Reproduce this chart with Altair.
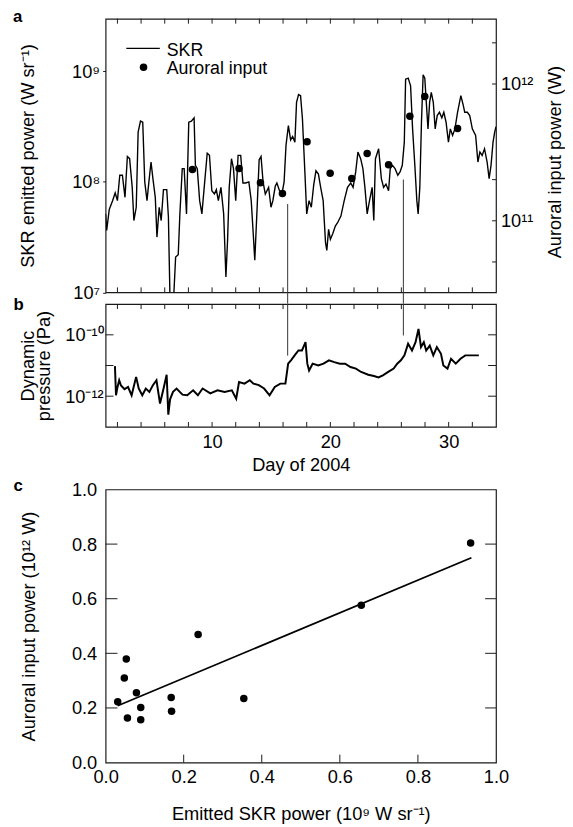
import altair as alt
import pandas as pd

FONT = "Liberation Sans"
FS = 18.5

# ---------------- panel a: SKR emitted power (log10 W/sr) vs day ----------------
skr_day = [1.0, 1.09, 1.31, 1.59, 1.81, 2.0, 2.2, 2.42, 2.64, 2.84, 3.03, 3.25, 3.39, 3.59, 3.75, 3.95,
           4.14, 4.31, 4.5, 4.64, 4.84, 5.0, 5.2, 5.34, 5.53, 5.7, 5.89, 6.17, 6.31, 6.45, 6.73, 6.92,
           7.14, 7.28, 7.48, 7.64, 7.84, 8.03, 8.25, 8.48, 8.59, 8.75, 8.95, 9.14, 9.36, 9.59, 9.78,
           9.98, 10.2, 10.36, 10.53, 10.75, 10.98, 11.17, 11.31, 11.45, 11.64, 11.81, 12.0, 12.2,
           12.42, 12.61, 12.84, 13.11, 13.31, 13.48, 13.61, 13.81, 13.98, 14.14, 14.31, 14.5, 14.78,
           14.98, 15.14, 15.34, 15.48, 15.7, 15.92, 16.09, 16.25, 16.45, 16.64, 16.81, 17.0, 17.14,
           17.31, 17.48, 17.64, 17.84, 18.0, 18.2, 18.39, 18.59, 18.78, 18.99, 19.18, 19.39, 19.59,
           19.7, 19.85, 20.0, 20.2, 20.42, 20.61, 20.89, 21.17, 21.45, 21.72, 21.92, 22.14, 22.33,
           22.56, 22.75, 22.92, 23.11, 23.31, 23.53, 23.67, 23.81, 24.08, 24.31, 24.5, 24.7, 24.92,
           25.06, 25.25, 25.47, 25.7, 25.89, 26.08, 26.25, 26.36, 26.58, 26.78, 26.95, 27.14, 27.31,
           27.42, 27.56, 27.7, 27.84, 27.98, 28.11, 28.25, 28.39, 28.53, 28.7, 28.86, 29.03, 29.22,
           29.42, 29.59, 29.78, 29.98, 30.14, 30.33, 30.53, 30.75, 31.03, 31.22, 31.36, 31.58, 31.78,
           32.0, 32.28, 32.47, 32.64, 32.83, 33.03, 33.25, 33.42, 33.58, 33.75, 33.89, 34.0]
skr_log10 = [7.71, 7.56, 7.75, 7.83, 7.9, 7.83, 8.06, 8.06, 7.86, 8.23, 8.21, 7.95, 7.65, 7.77, 8.45, 8.55,
             8.54, 8.0, 7.83, 7.98, 8.18, 8.03, 7.86, 7.5, 7.77, 7.65, 7.93, 7.93, 7.68, 6.9, 6.9, 7.32,
             7.34, 7.71, 8.12, 8.12, 7.71, 8.54, 8.55, 8.58, 8.15, 8.12, 7.83, 7.71, 7.98, 8.26, 8.24,
             7.92, 7.89, 7.93, 7.83, 7.95, 7.71, 7.14, 7.47, 7.95, 8.21, 8.12, 7.83, 8.24,
             8.24, 7.99, 7.99, 8.0, 7.83, 7.53, 7.29, 7.77, 8.2, 8.23, 8.0, 7.89, 7.95,
             7.77, 7.83, 7.96, 7.99, 7.92, 7.9, 8.0, 8.33, 8.51, 8.38, 8.41, 8.36, 8.72,
             8.79, 8.78, 8.57, 8.1, 7.71, 7.83, 7.77, 7.97, 8.1, 8.07, 7.95, 7.83, 7.45,
             7.38, 7.57, 7.48, 7.53, 7.6, 7.63, 7.69, 7.83, 7.95, 7.99, 7.95, 8.09, 8.27,
             8.21, 8.12, 7.95, 7.71, 7.83, 7.95, 7.65, 8.21, 8.3, 8.03, 7.95, 7.98, 7.92,
             8.12, 8.15, 8.12, 8.06, 8.09, 8.15, 8.36, 8.93, 8.94, 8.87, 8.48, 8.15, 7.83,
             7.71, 7.95, 8.54, 8.97, 8.94, 8.72, 8.48, 8.72, 8.81, 8.72, 8.48, 8.6, 8.63,
             8.58, 8.63, 8.54, 8.36, 8.48, 8.42, 8.48, 8.63, 8.78, 8.7, 8.63, 8.63, 8.6,
             8.48, 8.42, 8.18, 8.27, 8.24, 8.3, 8.18, 8.03, 8.15, 8.36, 8.45, 8.5]

# auroral input power (W), right axis of panel a
aur_day = [8.34, 12.28, 14.09, 15.95, 18.03, 19.98, 21.81, 23.11, 24.92, 26.72, 27.98, 30.75]
aur_power = [2.37e11, 2.41e11, 1.90e11, 1.58e11, 3.79e11, 2.23e11, 2.04e11, 3.11e11, 2.57e11,
             5.81e11, 8.11e11, 4.73e11]

# connector lines between panels a and b
conn_day = [16.39, 26.17]
conn_skr = [6.3e7, 1.05e8]
conn_pres = [2.1e-11, 9.5e-11]

# ---------------- panel b: dynamic pressure (log10 Pa) ----------------
pres_day = [1.79, 1.88, 1.98, 2.15, 2.3, 2.6, 2.9, 3.2, 3.58, 3.8, 4.1, 4.4, 4.7, 5.0, 5.3, 5.6, 5.9,
            6.16, 6.3, 6.45, 6.7, 7.0, 7.5, 7.9, 8.4, 8.8, 9.2, 9.85, 10.46, 11.06, 11.67, 12.04,
            12.28, 12.74, 13.19, 13.5, 13.95, 14.4, 14.86, 15.3, 15.77, 16.2, 16.43, 16.67, 16.98,
            17.3, 17.6, 17.9, 18.05, 18.2, 18.5, 18.97, 19.42, 19.88, 20.33, 20.8, 21.25, 21.7,
            22.16, 22.6, 23.2, 23.68, 24.07, 24.44, 24.89, 25.35, 25.65, 25.96, 26.26, 26.57, 26.9,
            27.2, 27.45, 27.66, 27.9, 28.1, 28.4, 28.7, 29.0, 29.35, 29.55, 29.9, 30.2, 30.6, 31.0,
            31.4, 31.87, 32.3, 32.55]
pres_log10 = [-11.02, -11.97, -11.75, -11.48, -11.65, -11.77, -11.7, -11.97, -11.37, -11.75, -11.97,
              -11.75, -11.86, -11.64, -11.48, -12.24, -11.75, -11.3, -12.6, -12.1, -11.86, -11.75,
              -11.95, -11.97, -11.81, -11.97, -11.75, -11.91, -11.81, -11.86, -11.81, -12.08,
              -11.54, -11.59, -11.48, -11.59, -11.64, -11.75, -11.97, -11.7, -11.59, -11.59, -10.94,
              -10.83, -10.67, -10.51, -10.51, -10.24, -10.94, -11.16, -10.94, -11.0, -10.94, -10.83,
              -10.89, -10.94, -10.94, -11.05, -11.1, -11.21, -11.3, -11.34, -11.39, -11.32, -11.21,
              -11.1, -10.94, -10.83, -10.67, -10.29, -10.51, -10.24, -9.81, -10.4, -10.24, -10.51,
              -10.35, -10.67, -10.4, -10.62, -11.0, -11.1, -10.78, -10.94, -10.78, -10.67, -10.67,
              -10.67, -10.67]

# ---------------- panel c: scatter ----------------
sc_skr = [0.031, 0.048, 0.053, 0.056, 0.079, 0.090, 0.090, 0.168, 0.169, 0.237, 0.354, 0.655, 0.935]
sc_aur = [0.223, 0.310, 0.379, 0.163, 0.256, 0.202, 0.157, 0.238, 0.188, 0.469, 0.235, 0.576, 0.804]
fit_skr = [0.031, 0.937]
fit_aur = [0.208, 0.750]

# tick positions
day_ticks = list(range(2, 33, 2))
aur_ticks = [5e10, 1e11, 2e11, 1e12, 2e12]
pres_ticks = [1e-12, 1e-11, 1e-10]
c_ticks = [0.2, 0.4, 0.6, 0.8]
c_labels = [0.0, 0.2, 0.4, 0.6, 0.8, 1.0]

W, HA, HB, HC = 396, 277.5, 124.5, 277
GAP = 11.5
SPACER = 39.2
INK = "#1a1a1a"
LETTER = 17
LEG_FS = 18

skr_df = pd.DataFrame({"day": skr_day, "skr": [10 ** v for v in skr_log10]})
aur_df = pd.DataFrame({"day": aur_day, "aur": aur_power})
conn_df = pd.DataFrame({"day": conn_day, "skr": conn_skr, "p": conn_pres})
pres_df = pd.DataFrame({"day": pres_day, "p": [10 ** v for v in pres_log10]})
sc_df = pd.DataFrame({"skr": sc_skr, "aur": sc_aur})
fit_df = pd.DataFrame({"skr": fit_skr, "aur": fit_aur})
dayt_df = pd.DataFrame({"v": day_ticks})
aurt_df = pd.DataFrame({"v": aur_ticks})
prest_df = pd.DataFrame({"v": pres_ticks})
ct_df = pd.DataFrame({"v": c_ticks})

X_DAY = alt.Scale(domain=[1, 34])
Y_SKR = alt.Scale(type="log", domain=[1e7, 3e9])
Y_AUR = alt.Scale(type="log", domain=[3e10, 3e12])
Y_P = alt.Scale(type="log", domain=[1e-13, 1e-9])
LIN = alt.Scale(domain=[0, 1])

one = alt.Data(values=[{"k": 0}])


def text_mark(txt, x, y, bold=False, size=FS):
    return alt.Chart(one).mark_text(
        text=txt, align="left", baseline="alphabetic", font=FONT, fontSize=size,
        fontWeight="bold" if bold else "normal", color="black"
    ).encode(x=alt.value(x), y=alt.value(y))


def xticks(df, scale, y0, y1):
    return alt.Chart(df).mark_rule(color=INK, strokeWidth=1).encode(
        x=alt.X("v:Q", scale=scale, axis=None), y=alt.value(y0), y2=alt.value(y1))


def yticks(df, scale, x0, x1):
    return alt.Chart(df).mark_rule(color=INK, strokeWidth=1).encode(
        y=alt.Y("v:Q", scale=scale, axis=None), x=alt.value(x0), x2=alt.value(x1))


# ---------- panel a ----------
a_line = alt.Chart(skr_df).mark_line(color="black", strokeWidth=1.4, clip=True).encode(
    x=alt.X("day:Q", scale=X_DAY, axis=None),
    y=alt.Y("skr:Q", scale=Y_SKR, axis=alt.Axis(
        orient="left", values=[1e7, 1e8, 1e9],
        labelExpr="datum.value >= 5e8 ? '10⁹' : datum.value >= 5e7 ? '10⁸' : '10⁷'",
        tickSize=3, labelPadding=3, domain=False, grid=False,
        title="SKR emitted power (W sr⁻¹)", titleAngle=270, titleBaseline="bottom", titleX=-69)),
)
a_dots = alt.Chart(aur_df).mark_circle(size=58, color="black", opacity=1).encode(
    x=alt.X("day:Q", scale=X_DAY, axis=None),
    y=alt.Y("aur:Q", scale=Y_AUR, axis=alt.Axis(
        orient="right", values=[1e11, 1e12],
        labelExpr="datum.value >= 5e11 ? '10¹²' : '10¹¹'",
        ticks=False, tickSize=0, labelPadding=4.5, domain=False, grid=False,
        title="Auroral input power (W)", titleAngle=270, titleBaseline="bottom",
        titleX=69.5, titleY=145)),
)
a_conn = alt.Chart(conn_df).mark_rule(color="#333333", strokeWidth=1).encode(
    x=alt.X("day:Q", scale=X_DAY, axis=None),
    y=alt.Y("skr:Q", scale=Y_SKR, axis=None),
    y2=alt.value(HA + GAP),
)
leg_line = alt.Chart(one).mark_rule(color="black", strokeWidth=1.3).encode(
    x=alt.value(21), x2=alt.value(55), y=alt.value(30))
leg_dot = alt.Chart(one).mark_circle(size=58, color="black", opacity=1).encode(
    x=alt.value(38.5), y=alt.value(49.3))

panel_a = alt.layer(
    a_line, a_dots, a_conn,
    xticks(dayt_df, X_DAY, 0, 5), xticks(dayt_df, X_DAY, HA, HA - 5),
    yticks(aurt_df, Y_AUR, W, W - 4),
    leg_line, leg_dot,
    text_mark("SKR", 62, 37.4, size=LEG_FS), text_mark("Auroral input", 62, 55.6, size=LEG_FS),
    text_mark("a", -94, 3.3, bold=True, size=LETTER),
).resolve_scale(y="independent").resolve_axis(x="independent", y="independent").properties(
    width=W, height=HA)

# ---------- panel b ----------
b_line = alt.Chart(pres_df).mark_line(color="black", strokeWidth=2.0, clip=True).encode(
    x=alt.X("day:Q", scale=X_DAY, axis=alt.Axis(
        orient="bottom", values=[10, 20, 30], ticks=False, tickSize=0, labelPadding=6,
        domain=False, grid=False, title="Day of 2004", titleBaseline="top", titleY=29.3)),
    y=alt.Y("p:Q", scale=Y_P, axis=alt.Axis(
        orient="left", values=[1e-12, 1e-10],
        labelExpr="datum.value >= 5e-11 ? '10⁻¹⁰' : '10⁻¹²'",
        ticks=False, tickSize=0, labelPadding=2.5, domain=False, grid=False,
        title=["Dynamic", "pressure (Pa)"], titleAngle=270, titleBaseline="bottom",
        titleX=-69.2, titleLineHeight=16.5)),
)
b_conn = alt.Chart(conn_df).mark_rule(color="#333333", strokeWidth=1).encode(
    x=alt.X("day:Q", scale=X_DAY, axis=None),
    y=alt.Y("p:Q", scale=Y_P, axis=None),
    y2=alt.value(0),
)
panel_b = alt.layer(
    b_line, b_conn,
    xticks(dayt_df, X_DAY, 0, 5), xticks(dayt_df, X_DAY, HB, HB - 5),
    yticks(prest_df, Y_P, 0, 8), yticks(prest_df, Y_P, W, W - 8),
    text_mark("b", -93.5, 5.7, bold=True, size=LETTER),
).resolve_scale(y="independent").resolve_axis(x="independent", y="independent").properties(
    width=W, height=HB)

spacer = alt.Chart(one).mark_point(opacity=0).encode(
    x=alt.value(0), y=alt.value(0)).properties(
    width=W, height=SPACER, view=alt.ViewBackground(strokeOpacity=0))

# ---------- panel c ----------
c_pts = alt.Chart(sc_df).mark_circle(size=58, color="black", opacity=1).encode(
    x=alt.X("skr:Q", scale=LIN, axis=alt.Axis(
        orient="bottom", values=c_labels, format=".1f", ticks=False, tickSize=0, labelPadding=5.6,
        domain=False, grid=False, title="Emitted SKR power (10⁹ W sr⁻¹)", titleBaseline="top",
        titleY=42.3)),
    y=alt.Y("aur:Q", scale=LIN, axis=alt.Axis(
        orient="left", values=c_labels, format=".1f", ticks=False, tickSize=0, labelPadding=9,
        domain=False, grid=False, title="Auroral input power (10¹² W)", titleAngle=270,
        titleBaseline="bottom", titleX=-68.5)),
)
c_fit = alt.Chart(fit_df).mark_line(color="black", strokeWidth=1.8).encode(
    x=alt.X("skr:Q", scale=LIN, axis=None),
    y=alt.Y("aur:Q", scale=LIN, axis=None),
)
panel_c = alt.layer(
    c_pts, c_fit,
    xticks(ct_df, LIN, HC, HC - 8),
    yticks(ct_df, LIN, 0, 12), yticks(ct_df, LIN, W, W - 11),
    text_mark("c", -93.5, 2, bold=True, size=LETTER),
).resolve_axis(x="independent", y="independent").properties(width=W, height=HC)

chart = alt.vconcat(panel_a, panel_b, spacer, panel_c, spacing=GAP, bounds="flush").properties(
    padding={"left": 4, "top": -7, "right": 0, "bottom": 0}
).configure_view(stroke=INK, strokeWidth=1.2).configure_axis(
    labelFont=FONT, titleFont=FONT, labelFontSize=FS, titleFontSize=FS, labelColor="black",
    titleColor="black", tickColor=INK, tickWidth=1, titleFontWeight="normal",
    labelFlush=False, labelOverlap=False,
)

chart.save("out.html", embed_options={"renderer": "svg", "actions": False})
